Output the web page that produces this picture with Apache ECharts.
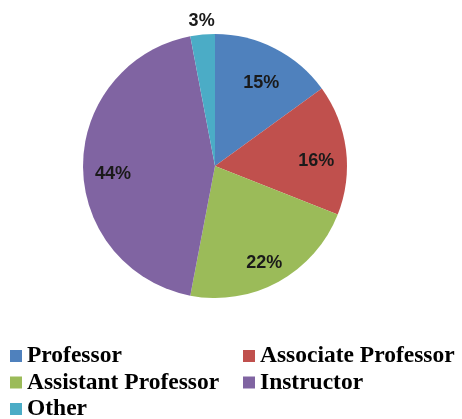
<!DOCTYPE html>
<html>
<head>
<meta charset="utf-8">
<script src="https://cdn.jsdelivr.net/npm/echarts@6/dist/echarts.min.js"></script>
<style>
  html, body { margin: 0; padding: 0; background: #fff; }
  #chart { width: 462px; height: 419px; }
</style>
</head>
<body>
<div id="chart"></div>
<script>
var categories = ['Professor', 'Associate Professor', 'Assistant Professor', 'Instructor', 'Other'];
var shares = [15, 16, 22, 44, 3];
var colors = ['#4F81BD', '#C0504D', '#9BBB59', '#8064A2', '#4BACC6'];

var legendLeft = ['Professor', 'Assistant Professor', 'Other'];
var legendRight = ['Associate Professor', 'Instructor'];

var pieData = [];
var labelData = [];
for (var i = 0; i < categories.length; i++) {
    pieData.push({ name: categories[i], value: shares[i] });
    labelData.push({ value: shares[i] });
}
// last small slice gets its label outside
labelData[4].label = { position: 'outside' };

var dom = document.getElementById('chart');
var myChart = echarts.init(dom);

var legendText = {
    fontFamily: 'Liberation Serif',
    fontWeight: 'bold',
    fontSize: 23.5,
    lineHeight: 22,
    color: '#000'
};

var option = {
    animation: false,
    color: colors,
    legend: [
        {
            orient: 'vertical',
            left: 10,
            top: 344,
            height: 90,
            padding: 0,
            itemWidth: 12,
            itemHeight: 12,
            itemGap: 2.5,
            icon: 'rect',
            data: legendLeft,
            textStyle: legendText
        },
        {
            orient: 'vertical',
            left: 243,
            top: 344,
            height: 90,
            padding: 0,
            itemWidth: 12,
            itemHeight: 12,
            itemGap: 2.5,
            icon: 'rect',
            data: legendRight,
            textStyle: legendText
        }
    ],
    series: [
        {
            name: 'faculty',
            type: 'pie',
            center: [215, 166],
            radius: [0, 132],
            startAngle: 90,
            clockwise: true,
            silent: true,
            label: { show: false },
            labelLine: { show: false },
            data: pieData
        },
        {
            // transparent ring only used to place the percent labels
            name: 'labels',
            type: 'pie',
            center: [215, 166],
            radius: [66, 132],
            startAngle: 90,
            clockwise: true,
            silent: true,
            itemStyle: { color: 'rgba(0,0,0,0)' },
            label: {
                show: true,
                position: 'inside',
                formatter: '{c}%',
                fontFamily: 'Liberation Sans',
                fontWeight: 'bold',
                fontSize: 18,
                color: '#1a1a1a'
            },
            labelLine: { show: false, length: 10, length2: 0 },
            labelLayout: function (params) {
                if (params.dataIndex === 4) {
                    return { dx: 18, dy: -4 };
                }
                return { dy: 8 };
            },
            data: labelData
        }
    ]
};

myChart.setOption(option, true);
window.onresize = myChart.resize;
</script>
</body>
</html>
